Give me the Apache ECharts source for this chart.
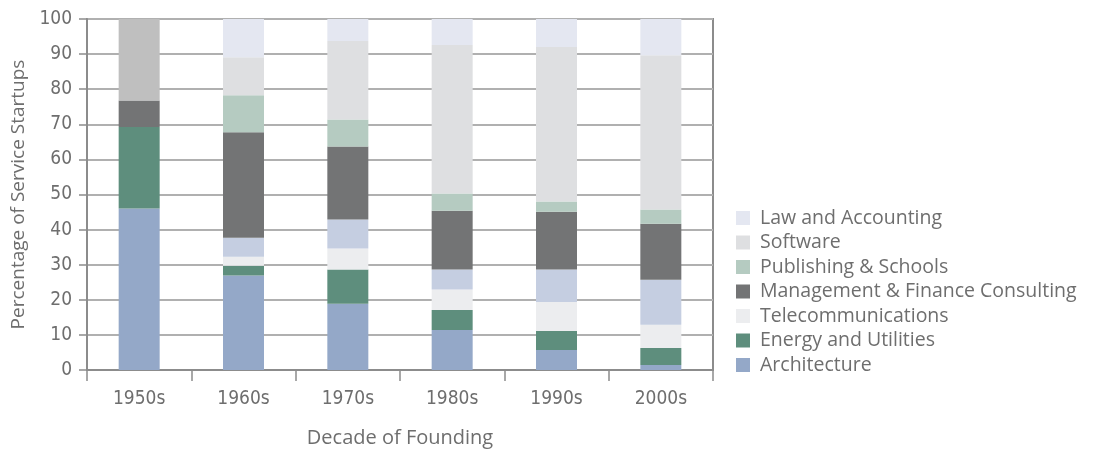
<!DOCTYPE html>
<html>
<head>
<meta charset="utf-8">
<script src="https://cdn.jsdelivr.net/npm/echarts@6/dist/echarts.min.js"></script>
<style>
  html, body { margin: 0; padding: 0; background: #fff; }
  #chart { width: 1095px; height: 449px; }
</style>
</head>
<body>
<div id="chart"></div>
<script>
  const decades = ['1950s', '1960s', '1970s', '1980s', '1990s', '2000s'];
  const yTicks = [0, 10, 20, 30, 40, 50, 60, 70, 80, 90, 100];

  // stacked bottom -> top, percent of service startups
  const architecture = [46.0, 26.9, 18.9, 11.4, 5.7, 1.4];
  const energy       = [23.2, 2.8, 9.7, 5.7, 5.4, 4.9];
  const telecom      = [0, 2.6, 6.0, 5.8, 8.3, 6.6];
  const otherBlue    = [0, 5.4, 8.3, 5.7, 9.2, 12.8];   // segment with no legend entry
  const management   = [7.6, 30.0, 20.8, 16.8, 16.5, 16.0];
  const publishing   = [0, 10.6, 7.7, 4.9, 2.9, 4.0];
  const software     = [0, 10.8, 22.3, 42.3, 44.0, 44.0];
  const law          = [0, 10.9, 6.3, 7.4, 8.0, 10.3];
  const otherGray    = [23.2, 0, 0, 0, 0, 0];             // 1950s top, no legend entry

  const legendOrder = ['Law and Accounting', 'Software', 'Publishing & Schools',
    'Management & Finance Consulting', 'Telecommunications', 'Energy and Utilities', 'Architecture'];

  const tickFont = '"Liberation Sans Narrow", "DejaVu Sans Condensed", "Roboto Condensed", sans-serif';
  const textFont = '"Open Sans", Lato, sans-serif';

  function bar(name, data, color) {
    return {
      name: name,
      type: 'bar',
      stack: 'total',
      barWidth: 41,
      data: data,
      itemStyle: { color: color },
      emphasis: { disabled: true }
    };
  }

  const chart = echarts.init(document.getElementById('chart'));
  const option = {
    animation: false,
    grid: {
      left: 87,
      top: 19,
      width: 626,
      height: 351,
      outerBoundsMode: 'none',
      show: true,
      borderColor: '#8c8c8c',
      borderWidth: 2
    },
    legend: {
      orient: 'vertical',
      left: 736,
      top: 208,
      padding: 0,
      itemWidth: 14,
      itemHeight: 14,
      itemGap: 4.5,
      icon: 'rect',
      data: legendOrder,
      selectedMode: false,
      textStyle: { color: '#6e6e6e', fontSize: 19.5, fontFamily: textFont, padding: [0, 0, 0, 5] }
    },
    xAxis: {
      type: 'category',
      data: decades,
      name: 'Decade of Founding',
      nameLocation: 'middle',
      nameGap: 58,
      nameTextStyle: { color: '#6e6e6e', fontSize: 20, fontFamily: textFont },
      axisLine: { lineStyle: { color: '#8c8c8c', width: 2 } },
      axisTick: { show: true, length: 11, lineStyle: { color: '#8c8c8c', width: 1.5 } },
      axisLabel: { color: '#6e6e6e', fontSize: 19, fontFamily: tickFont, margin: 20 }
    },
    yAxis: {
      type: 'value',
      min: yTicks[0],
      max: yTicks[yTicks.length - 1],
      interval: 10,
      name: 'Percentage of Service Startups',
      nameLocation: 'middle',
      nameGap: 56,
      nameTextStyle: { color: '#6e6e6e', fontSize: 19, fontFamily: textFont },
      axisLine: { show: true, lineStyle: { color: '#8c8c8c', width: 2 } },
      axisTick: { show: true, length: 8, lineStyle: { color: '#8c8c8c', width: 1.5 } },
      axisLabel: { color: '#6e6e6e', fontSize: 19, fontFamily: tickFont, margin: 15 },
      splitLine: { lineStyle: { color: '#b0b0b0', width: 2 } }
    },
    series: [
      bar('Architecture', architecture, '#94a8c8'),
      bar('Energy and Utilities', energy, '#5e8e7d'),
      bar('Telecommunications', telecom, '#ecedef'),
      bar('Other', otherBlue, '#c5cee1'),
      bar('Management & Finance Consulting', management, '#737475'),
      bar('Publishing & Schools', publishing, '#b5cbc1'),
      bar('Software', software, '#dedfe1'),
      bar('Law and Accounting', law, '#e4e7f1'),
      bar('Unclassified', otherGray, '#bfbfbf')
    ]
  };
  chart.setOption(option);
</script>
</body>
</html>
